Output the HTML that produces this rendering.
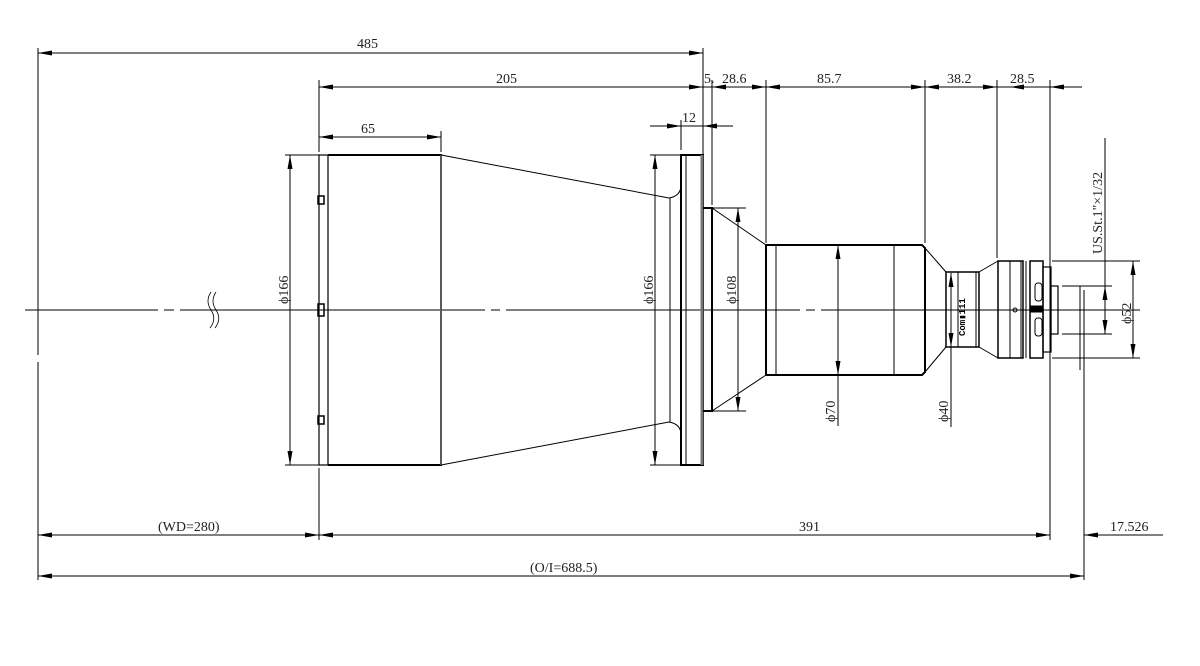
<!DOCTYPE html>
<html><head><meta charset="utf-8"><style>
html,body{margin:0;padding:0;background:#fff}
svg{display:block}
text{font-family:"Liberation Serif","Noto Serif CJK SC",serif;font-size:14px;fill:#222}
</style></head><body>
<svg width="1200" height="666" viewBox="0 0 1200 666" xmlns="http://www.w3.org/2000/svg">
<defs>
<marker id="a" viewBox="0 0 14 6" refX="14" refY="3" markerWidth="14" markerHeight="6" markerUnits="userSpaceOnUse" orient="auto-start-reverse"><path d="M0,0.5 L14,3 L0,5.5 Z" fill="#000"/></marker>
</defs>
<g stroke="#000" stroke-width="1" fill="none">
<path d="M25,310 H158 M164,310 H174 M180,310 H485 M491,310 H500 M506,310 H800 M806,310 H815 M821,310 H1140"/>
<path d="M211,292 q-6,9 0,18 q6,9 -1,18 M216,292 q-6,9 0,18 q6,9 -1,18" stroke-width="0.8"/>
<path d="M38,48 V355 M38,362 V580 M319,80 V152 M319,468 V540 M441,131 V152 M703,48 V160 M712,80 V205 M681,120 V150 M766,80 V243 M925,80 V243 M997,80 V258 M1050,80 V540 M1084,290 V580 M1105,138 V286 M1080,286 V370"/>
<line x1="38" y1="53" x2="703" y2="53" marker-start="url(#a)" marker-end="url(#a)"/>
<line x1="319" y1="87" x2="703" y2="87" marker-start="url(#a)" marker-end="url(#a)"/>
<line x1="319" y1="137" x2="441" y2="137" marker-start="url(#a)" marker-end="url(#a)"/>
<line x1="703" y1="87" x2="766" y2="87" marker-end="url(#a)"/>
<line x1="712" y1="87" x2="727" y2="87" marker-start="url(#a)"/>
<line x1="766" y1="87" x2="925" y2="87" marker-start="url(#a)" marker-end="url(#a)"/>
<line x1="925" y1="87" x2="997" y2="87" marker-start="url(#a)" marker-end="url(#a)"/>
<line x1="997" y1="87" x2="1010" y2="87"/>
<line x1="1010" y1="87" x2="1050" y2="87" marker-start="url(#a)"/>
<line x1="1050" y1="87" x2="1082" y2="87"/>
<line x1="1066" y1="87" x2="1050" y2="87" marker-end="url(#a)"/>
<line x1="650" y1="126" x2="681" y2="126" marker-end="url(#a)"/>
<line x1="733" y1="126" x2="703" y2="126" marker-end="url(#a)"/>
<line x1="681" y1="126" x2="703" y2="126"/>
<line x1="38" y1="535" x2="319" y2="535" marker-start="url(#a)" marker-end="url(#a)"/>
<line x1="319" y1="535" x2="1050" y2="535" marker-start="url(#a)" marker-end="url(#a)"/>
<line x1="1084" y1="535" x2="1163" y2="535"/>
<line x1="1098" y1="535" x2="1084" y2="535" marker-end="url(#a)"/>
<line x1="38" y1="576" x2="1084" y2="576" marker-start="url(#a)" marker-end="url(#a)"/>
<path d="M285,155 H319 M285,465 H319"/>
<line x1="290" y1="155" x2="290" y2="465" marker-start="url(#a)" marker-end="url(#a)"/>
<path d="M650,155 H681 M650,465 H681"/>
<line x1="655" y1="155" x2="655" y2="465" marker-start="url(#a)" marker-end="url(#a)"/>
<path d="M712,208 H746 M712,411 H746"/>
<line x1="738" y1="208" x2="738" y2="411" marker-start="url(#a)" marker-end="url(#a)"/>
<line x1="838" y1="245" x2="838" y2="375" marker-start="url(#a)" marker-end="url(#a)"/>
<line x1="838" y1="375" x2="838" y2="426"/>
<line x1="951" y1="273" x2="951" y2="347" marker-start="url(#a)" marker-end="url(#a)"/>
<line x1="951" y1="347" x2="951" y2="427"/>
<path d="M1052,261 H1140 M1052,358 H1140 M1062,286 H1112 M1062,334 H1112"/>
<line x1="1133" y1="261" x2="1133" y2="358" marker-start="url(#a)" marker-end="url(#a)"/>
<line x1="1105" y1="286" x2="1105" y2="334" marker-start="url(#a)" marker-end="url(#a)"/>
</g>
<g stroke="#000" fill="none">
<rect x="319" y="155" width="9" height="310" stroke-width="1.2"/>
<path d="M328,155 H441 V465 H328" stroke-width="2"/>
<line x1="441" y1="155" x2="441" y2="465" stroke="#777" stroke-width="1.5"/>
<rect x="318" y="196" width="6" height="8" stroke-width="1.5"/>
<rect x="318" y="304" width="6" height="12" stroke-width="1.5"/>
<rect x="318" y="416" width="6" height="8" stroke-width="1.5"/>
<path d="M441,155 L669,198 Q681,196 681,185 M441,465 L669,422 Q681,424 681,435" stroke-width="1"/>
<line x1="670" y1="198" x2="670" y2="422" stroke-width="1"/>
<path d="M681,155 H703 V465 H681 Z" stroke-width="2"/>
<line x1="686" y1="155" x2="686" y2="465"/>
<line x1="702" y1="155" x2="702" y2="465" stroke="#777" stroke-width="3"/>
<path d="M703,208 H712 V411 H703" stroke-width="2"/>
<path d="M712,208 L766,245 M712,411 L766,375"/>
<path d="M766,245 H922 L925,248 V372 L922,375 H766 Z" stroke-width="2"/>
<path d="M776,245 V375 M894,245 V375"/>
<path d="M925,248 L946,272 M925,372 L946,347"/>
<rect x="946" y="272" width="33" height="75" stroke-width="1.5"/>
<path d="M958,272 V347 M976,272 V347"/>
<path d="M979,272 L998,261 M979,347 L998,358"/>
<rect x="998" y="261" width="25" height="97" stroke-width="1.5"/>
<path d="M1010,261 V358 M1021,261 V358 M1026,261 V358"/>
<rect x="1030" y="261" width="13" height="97" stroke-width="1.5"/>
<rect x="1035" y="283" width="7" height="18" rx="3"/>
<rect x="1035" y="318" width="7" height="18" rx="3"/>
<rect x="1031" y="306" width="12" height="6" fill="#000"/>
<rect x="1043" y="267" width="8" height="85" stroke-width="1.2"/>
<rect x="1051" y="286" width="7" height="48" stroke-width="1.2"/>
<circle cx="1015" cy="310" r="2"/>
</g>
<text x="965" y="336" transform="rotate(-90 965 336)" style="font-size:9px;font-family:'Liberation Mono',monospace;font-weight:bold;fill:#000">Com▮111</text>
<text x="357" y="48">485</text>
<text x="496" y="83">205</text>
<text x="361" y="133">65</text>
<text x="682" y="122">12</text>
<text x="704" y="83">5.</text>
<text x="722" y="83">28.6</text>
<text x="817" y="83">85.7</text>
<text x="947" y="83">38.2</text>
<text x="1010" y="83">28.5</text>
<text x="158" y="531">(WD=280)</text>
<text x="799" y="531">391</text>
<text x="1110" y="531">17.526</text>
<text x="530" y="572">(O/I=688.5)</text>
<text x="288" y="304" transform="rotate(-90 288 304)">ϕ166</text>
<text x="653" y="304" transform="rotate(-90 653 304)">ϕ166</text>
<text x="736" y="304" transform="rotate(-90 736 304)">ϕ108</text>
<text x="835" y="422" transform="rotate(-90 835 422)">ϕ70</text>
<text x="948" y="422" transform="rotate(-90 948 422)">ϕ40</text>
<text x="1131" y="324" transform="rotate(-90 1131 324)">ϕ52</text>
<text x="1102" y="254" transform="rotate(-90 1102 254)">US.St.1"×1/32</text>
</svg>
</body></html>
